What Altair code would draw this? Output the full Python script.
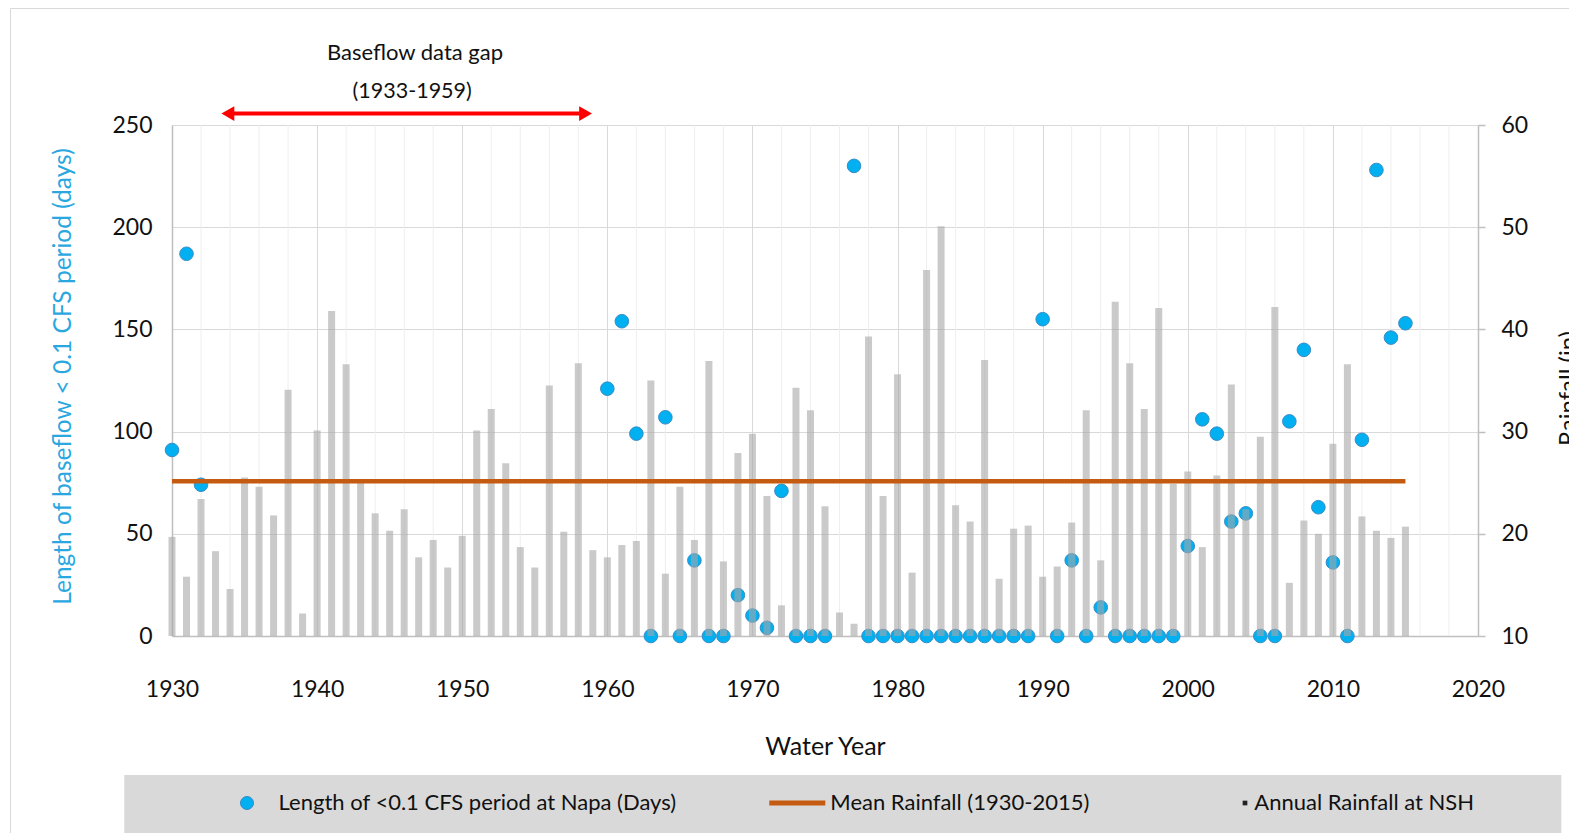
import altair as alt
import pandas as pd

# ---------------- data ----------------
years = list(range(1930, 2016))

rainfall_in = [
    19.7, 15.8, 23.4, 18.3, 14.6, 25.5, 24.6, 21.8, 34.1, 12.2,   # 1930-1939
    30.1, 41.8, 36.6, 25.0, 22.0, 20.3, 22.4, 17.7, 19.4, 16.7,   # 1940-1949
    19.8, 30.1, 32.2, 26.9, 18.7, 16.7, 34.5, 20.2, 36.7, 18.4,   # 1950-1959
    17.7, 18.9, 19.3, 35.0, 16.1, 24.6, 19.4, 36.9, 17.3, 27.9,   # 1960-1969
    29.8, 23.7, 13.0, 34.3, 32.1, 22.7, 12.3, 11.2, 39.3, 23.7,   # 1970-1979
    35.6, 16.2, 45.8, 50.1, 22.8, 21.2, 37.0, 15.6, 20.5, 20.8,   # 1980-1989
    15.8, 16.8, 21.1, 32.1, 17.4, 42.7, 36.7, 32.2, 42.1, 24.9,   # 1990-1999
    26.1, 18.7, 25.7, 34.6, 22.4, 29.5, 42.2, 15.2, 21.3, 20.0,   # 2000-2009
    28.8, 36.6, 21.7, 20.3, 19.6, 20.7,                           # 2010-2015
]

N = None
baseflow_days = [
    91, 187, 74, N, N, N, N, N, N, N,          # 1930-1939
    N, N, N, N, N, N, N, N, N, N,              # 1940-1949
    N, N, N, N, N, N, N, N, N, N,              # 1950-1959
    121, 154, 99, 0, 107, 0, 37, 0, 0, 20,     # 1960-1969
    10, 4, 71, 0, 0, 0, N, 230, 0, 0,          # 1970-1979
    0, 0, 0, 0, 0, 0, 0, 0, 0, 0,              # 1980-1989
    155, 0, 37, 0, 14, 0, 0, 0, 0, 0,          # 1990-1999
    44, 106, 99, 56, 60, 0, 0, 105, 140, 63,   # 2000-2009
    36, 0, 96, 228, 146, 153,                  # 2010-2015
]

mean_years = [1930, 2015]
mean_rainfall_in = 25.15

gap_start, gap_end = 1933.35, 1959.0
gap_text_year = [1946.75, 1946.55]
x_ticks = list(range(1930, 2021, 10))
minor_years = [y for y in range(1932, 2020, 2) if y % 10 != 0]
left_ticks = [0, 50, 100, 150, 200, 250]
right_ticks = [10, 20, 30, 40, 50, 60]

legend_labels = ["Length of <0.1 CFS period at Napa (Days)",
                 "Mean Rainfall (1930-2015)",
                 "Annual Rainfall at NSH"]

# ---------------- styling ----------------
FONT = "Lato"
W, H = 1306, 511
GRID = "#D9D9D9"
AXIS = "#BFBFBF"
BLUE = "#00B0F0"
ORANGE = "#C55A11"

df = pd.DataFrame({"year": years, "rain": rainfall_in, "days": baseflow_days})
df["base"] = 10
df_pts = df.dropna(subset=["days"])
df_mean = pd.DataFrame({"year": mean_years, "rain": [mean_rainfall_in] * 2})
df_minor = pd.DataFrame({"year": minor_years})
one = pd.DataFrame({"k": [0]})

x_axis = alt.Axis(values=x_ticks, format="d", title="Water Year",
                  grid=True, gridColor=GRID, domainColor=AXIS, domainWidth=1.5,
                  ticks=False, labelFontSize=23, labelPadding=42, labelColor="#111",
                  labelFlush=False, labelOverlap=False,
                  titleFontSize=25, titleFontWeight="normal", titleColor="#111",
                  titleY=110, titleBaseline="middle")
x_scale = alt.Scale(domain=[1930, 2020], nice=False, zero=False, padding=0)


def X(field="year"):
    return alt.X(f"{field}:Q", scale=x_scale, axis=x_axis)


minor_grid = alt.Chart(df_minor).mark_rule(color="#EEEEEE", strokeWidth=1).encode(x=X())

points = alt.Chart(df_pts).mark_point(
    filled=True, shape="circle", size=185, fill=BLUE, stroke="#3A8CC6",
    strokeWidth=1, opacity=1
).encode(
    x=X(),
    y=alt.Y("days:Q", scale=alt.Scale(domain=[0, 250], nice=False),
            axis=alt.Axis(orient="left", values=left_ticks, grid=True, gridColor=GRID,
                          domainColor=AXIS, domainWidth=1.5, ticks=False,
                          labelFontSize=23, labelPadding=20, labelColor="#111",
                          title="Length of baseflow < 0.1 CFS period (days)",
                          titleColor="#2AA7DF", titleFontSize=24.5, titleFontWeight="normal",
                          titleAngle=270, titleX=-109, titleY=251,
                          titleAlign="center", titleBaseline="middle")),
)

right_y = alt.Y("rain:Q", scale=alt.Scale(domain=[10, 60], nice=False, zero=False),
                axis=alt.Axis(orient="right", values=right_ticks, grid=False,
                              domainColor=AXIS, domainWidth=1.5, ticks=True,
                              tickColor=AXIS, tickSize=7, tickWidth=1.5,
                              labelFontSize=23, labelPadding=16, labelColor="#111",
                              title="Rainfall (in)", titleColor="#111",
                              titleFontSize=24, titleFontWeight="normal",
                              titleAngle=270, titleX=90, titleY=263,
                              titleAlign="center", titleBaseline="middle"))

bars = alt.Chart(df).mark_bar(size=7, color="#A6A6A6", opacity=0.6).encode(
    x=X(), y=right_y, y2="base:Q")

mean_line = alt.Chart(df_mean).mark_line(color=ORANGE, strokeWidth=4.5).encode(
    x=X(), y=right_y)

rain_layer = alt.layer(bars, mean_line)

# annotation: data gap arrow and text
AY = -11.4
gap_df = pd.DataFrame({"x1": [gap_start + 0.9], "x2": [gap_end - 0.9]})
arrow_line = alt.Chart(gap_df).mark_rule(color="#FF0000", strokeWidth=4).encode(
    x=alt.X("x1:Q", scale=x_scale, axis=x_axis), x2="x2:Q", y=alt.value(AY))
head_l = alt.Chart(pd.DataFrame({"year": [gap_start + 0.5]})).mark_point(
    shape="triangle-left", filled=True, size=220, color="#FF0000", opacity=1
).encode(x=X(), y=alt.value(AY))
head_r = alt.Chart(pd.DataFrame({"year": [gap_end - 0.5]})).mark_point(
    shape="triangle-right", filled=True, size=220, color="#FF0000", opacity=1
).encode(x=X(), y=alt.value(AY))
txt1 = alt.Chart(pd.DataFrame({"year": [gap_text_year[0]], "t": ["Baseflow data gap"]})).mark_text(
    font=FONT, fontSize=22, color="#111", align="center", baseline="middle"
).encode(x=X(), y=alt.value(-72.5), text="t:N")
txt2 = alt.Chart(pd.DataFrame({"year": [gap_text_year[1]], "t": ["(1933-1959)"]})).mark_text(
    font=FONT, fontSize=21.5, color="#111", align="center", baseline="middle"
).encode(x=X(), y=alt.value(-33.5), text="t:N")

# outer frame
frame = alt.Chart(one).mark_rect(fillOpacity=0, stroke="#D9D9D9", strokeWidth=1).encode(
    x=alt.value(-161.5), x2=alt.value(1420), y=alt.value(-116.5), y2=alt.value(730))

# legend (drawn)
LY = 678
leg_box = alt.Chart(one).mark_rect(color="#D9D9D9").encode(
    x=alt.value(-47.7), x2=alt.value(1389.3), y=alt.value(650), y2=alt.value(730))
leg_dot = alt.Chart(one).mark_point(shape="circle", filled=True, size=170, fill=BLUE,
                                    stroke="#3A8CC6", strokeWidth=1, opacity=1).encode(
    x=alt.value(75), y=alt.value(LY))
leg_line = alt.Chart(one).mark_rule(color=ORANGE, strokeWidth=5).encode(
    x=alt.value(597.3), x2=alt.value(653.3), y=alt.value(LY))
leg_sq = alt.Chart(one).mark_point(shape="square", filled=True, size=22, color="#222",
                                   opacity=1).encode(x=alt.value(1073), y=alt.value(LY))


def leg_text(xv, label):
    return alt.Chart(pd.DataFrame({"t": [label]})).mark_text(
        font=FONT, fontSize=22, color="#111", align="left", baseline="middle"
    ).encode(x=alt.value(xv), y=alt.value(LY), text="t:N")


legend = [leg_box, leg_dot, leg_line, leg_sq,
          leg_text(106.6, legend_labels[0]),
          leg_text(658.3, legend_labels[1]),
          leg_text(1082.3, legend_labels[2])]

chart = alt.layer(
    frame, minor_grid, points, rain_layer,
    arrow_line, head_l, head_r, txt1, txt2, *legend
).resolve_scale(y="independent").properties(
    width=W, height=H,
    padding={"left": 164, "top": 117, "right": 91, "bottom": 197},
    autosize=alt.AutoSizeParams(type="none"),
).configure_view(stroke=None).configure_axis(
    labelFont=FONT, titleFont=FONT
).configure_text(font=FONT)

chart.save("out.html", embed_options={"renderer": "svg", "actions": False})
